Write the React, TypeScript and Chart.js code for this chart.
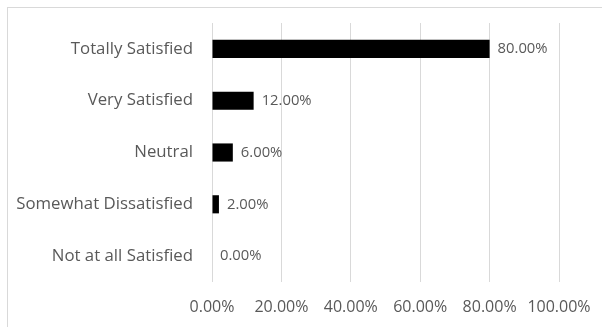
import React, { useEffect, useRef } from "react";
import { Chart, registerables } from "chart.js";

Chart.register(...registerables);

const categories = [
  "Totally Satisfied",
  "Very Satisfied",
  "Neutral",
  "Somewhat Dissatisfied",
  "Not at all Satisfied",
];
const values = [80, 12, 6, 2, 0];
const xTicks = [0, 20, 40, 60, 80, 100];

const FONT = "'Open Sans', sans-serif";
const GRAY = "#595959";

const valueLabels = {
  id: "valueLabels",
  afterDatasetsDraw(chart: any) {
    const ctx = chart.ctx;
    const meta = chart.getDatasetMeta(0);
    ctx.save();
    ctx.font = `14.8px ${FONT}`;
    ctx.fillStyle = GRAY;
    ctx.textAlign = "left";
    ctx.textBaseline = "middle";
    meta.data.forEach((bar: any, i: number) => {
      const v = values[i];
      ctx.fillText(v.toFixed(2) + "%", bar.x + 8, bar.y);
    });
    ctx.restore();
  },
};

export default function App() {
  const ref = useRef<HTMLCanvasElement>(null);
  useEffect(() => {
    if (!ref.current) return;
    const chart = new Chart(ref.current, {
      type: "bar",
      data: {
        labels: categories,
        datasets: [
          {
            data: values,
            backgroundColor: "#000000",
            borderWidth: 0,
            barPercentage: 0.7,
            categoryPercentage: 0.5,
          },
        ],
      },
      options: {
        indexAxis: "y",
        responsive: false,
        animation: false,
        devicePixelRatio: 1,
        layout: { padding: { top: 23, right: 43, left: 0, bottom: 0 } },
        plugins: {
          legend: { display: false },
          tooltip: { enabled: false },
        },
        scales: {
          x: {
            min: 0,
            max: 100,
            afterBuildTicks: (scale: any) => {
              scale.ticks = xTicks.map((v) => ({ value: v }));
            },
            afterFit: (scale: any) => {
              scale.height = 45;
              scale.paddingLeft = 0;
              scale.paddingRight = 0;
            },
            grid: { color: "#d9d9d9", drawTicks: false, lineWidth: 1 },
            border: { display: false },
            ticks: {
              padding: 16,
              color: GRAY,
              font: { family: FONT, size: 16 },
              maxRotation: 0,
              callback: (v: any) => Number(v).toFixed(2) + "%",
            },
          },
          y: {
            afterFit: (scale: any) => {
              scale.width = 212;
              scale.paddingTop = 0;
              scale.paddingBottom = 0;
            },
            grid: { display: false, drawTicks: false },
            border: { display: false },
            ticks: {
              padding: 19,
              color: GRAY,
              font: { family: FONT, size: 16.8 },
            },
          },
        },
      },
      plugins: [valueLabels],
    });
    return () => chart.destroy();
  }, []);
  return (
    <div style={{ position: "absolute", left: 0, top: 0, width: 602, height: 327, overflow: "hidden", background: "#fff" }}>
      <div
        style={{
          position: "absolute",
          left: 7,
          top: 7,
          width: 700,
          height: 500,
          border: "1px solid #d9d9d9",
        }}
      />
      <canvas ref={ref} width={602} height={327} style={{ position: "absolute", left: 0, top: 0 }} />
    </div>
  );
}
